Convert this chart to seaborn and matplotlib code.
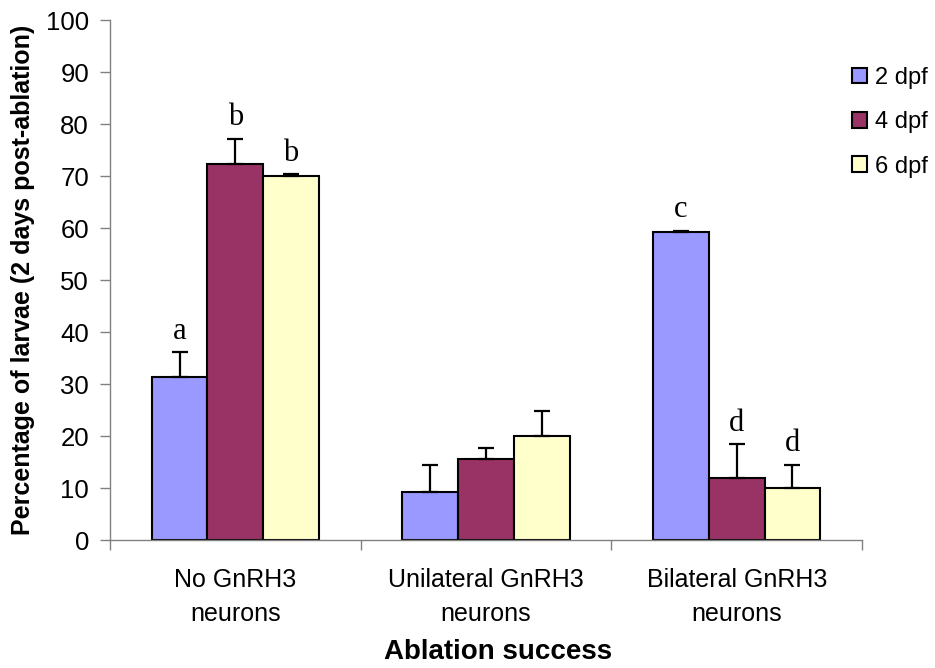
import seaborn as sns
import matplotlib.pyplot as plt
import pandas as pd
from matplotlib.ticker import FixedLocator

# data
groups = ["No GnRH3\nneurons", "Unilateral GnRH3\nneurons", "Bilateral GnRH3\nneurons"]
stages = ["2 dpf", "4 dpf", "6 dpf"]
pct_2dpf = [31.3, 9.2, 59.2]
pct_4dpf = [72.4, 15.6, 11.9]
pct_6dpf = [70.0, 20.0, 10.0]
err_2dpf = [4.9, 5.2, 0.3]
err_4dpf = [4.8, 2.1, 6.6]
err_6dpf = [0.4, 4.9, 4.5]
letters_2dpf = ["a", "", "c"]
letters_4dpf = ["b", "", "d"]
letters_6dpf = ["b", "", "d"]
colors = ["#9999FF", "#993366", "#FFFFCC"]

df = pd.DataFrame({
    "group": groups * 3,
    "stage": [s for s in stages for _ in groups],
    "pct": pct_2dpf + pct_4dpf + pct_6dpf,
})
errs = [err_2dpf, err_4dpf, err_6dpf]
letters = [letters_2dpf, letters_4dpf, letters_6dpf]

sns.set_style("white")
plt.rcParams["font.family"] = ["Liberation Sans", "DejaVu Sans"]
plt.rcParams["text.color"] = "black"
plt.rcParams["axes.labelcolor"] = "black"

fig = plt.figure(figsize=(9.35, 6.68), dpi=100)
ax = fig.add_axes([0.1176, 0.1916, 0.8044, 0.7784])

sns.barplot(data=df, x="group", y="pct", hue="stage", palette=colors,
            width=0.667, edgecolor="black", linewidth=1.5, saturation=1,
            errorbar=None, ax=ax)

# one-sided error bars and significance letters
bar_conts = list(ax.containers)
for i, cont in enumerate(bar_conts):
    for j, bar in enumerate(cont):
        xc = bar.get_x() + bar.get_width() / 2
        h = bar.get_height()
        ax.errorbar(xc, h, yerr=[[0], [errs[i][j]]], fmt="none", ecolor="black",
                    elinewidth=1.6, capsize=6, capthick=1.6, zorder=3)
        if letters[i][j]:
            ax.text(xc, h + errs[i][j] + 1.2, letters[i][j], ha="center", va="bottom",
                    fontsize=22, color="black", family=["Liberation Serif", "DejaVu Serif"])

ax.set_ylim(0, 100)
ax.set_xlim(-0.5, 2.5)
ax.set_yticks(range(0, 101, 10))
ax.tick_params(axis="y", labelsize=18.5, length=7, width=1, color="#808080",
               labelcolor="black", direction="out", left=True, pad=8)
ax.tick_params(axis="x", which="major", labelsize=18, length=0, pad=20, labelcolor="black")
ax.xaxis.set_minor_locator(FixedLocator([-0.5, 0.5, 1.5, 2.5]))
ax.tick_params(axis="x", which="minor", length=7, width=1, color="#808080", direction="out", bottom=True)
for lbl in ax.get_xticklabels():
    lbl.set_linespacing(1.55)

for s in ["top", "right"]:
    ax.spines[s].set_visible(False)
for s in ["left", "bottom"]:
    ax.spines[s].set_color("#808080")
    ax.spines[s].set_linewidth(1)

ax.set_xlabel("Ablation success", fontsize=20, fontweight="bold")
ax.xaxis.set_label_coords(0.516, -0.19)
ax.set_ylabel("Percentage of larvae (2 days post-ablation)", fontsize=18, fontweight="bold", labelpad=8)

leg = ax.legend(loc="upper left", bbox_to_anchor=(0.911, 0.9), bbox_transform=fig.transFigure,
                frameon=False, fontsize=17, handlelength=0.65, handleheight=0.65,
                handletextpad=0.35, labelspacing=0.95, borderaxespad=0, borderpad=0)
for p in leg.get_patches():
    p.set_linewidth(1.5)
    p.set_edgecolor("black")
for t in leg.get_texts():
    t.set_color("black")

fig.savefig("out.png", dpi=100)
